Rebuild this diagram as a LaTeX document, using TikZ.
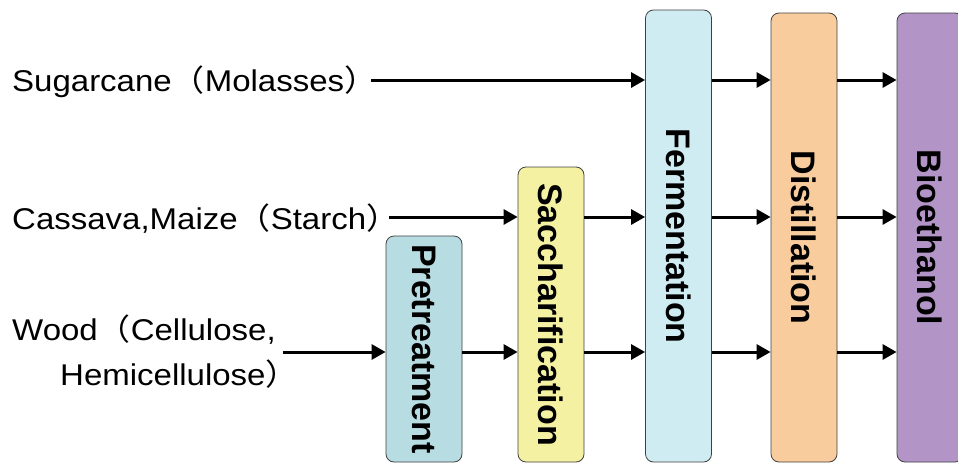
\documentclass[tikz,border=0pt]{standalone}
\usepackage{fontspec}
\setmainfont{Liberation Sans}
\newfontfamily\feedfont[FakeStretch=1.1]{Liberation Sans}
\newfontfamily\cjk[FakeStretch=1.1]{Noto Sans CJK JP}
\usetikzlibrary{calc, arrows.meta}

\definecolor{preColor}{RGB}{183,221,226}
\definecolor{sacColor}{RGB}{245,241,162}
\definecolor{fermColor}{RGB}{208,236,243}
\definecolor{distColor}{RGB}{249,204,157}
\definecolor{bioColor}{RGB}{179,148,199}

\newcommand{\lpar}{{\cjk （}}
\newcommand{\rpar}{{\cjk ）}}

\begin{document}
\begin{tikzpicture}[x=1pt, y=-1pt,
        stage/.style={draw=black!75, line width=0.8pt, rounded corners=8pt,
            minimum width=66pt, inner sep=0pt,
            font=\fontsize{34}{40}\selectfont\bfseries},
        feed/.style={inner sep=0pt, align=left,
            font=\fontsize{30}{45}\selectfont\feedfont},
        flow/.style={line width=3pt, -{Triangle[length=14pt,width=15pt]}}]

        \useasboundingbox (0,0) rectangle (958,463);

        % define rows
        \coordinate (row1) at (0,80);
        \coordinate (row2) at (0,217);
        \coordinate (row3) at (0,352);

        % draw stages
        \node (pre) at (424,349) [stage, fill=preColor, minimum width=76pt,
            minimum height=226pt] {\rotatebox{-90}{Pretreatment}};
        \node (sac) at (551,314.5) [stage, fill=sacColor,
            minimum height=295pt] {\rotatebox{-90}{Saccharification}};
        \node (ferm) at (678.5,236) [stage, fill=fermColor,
            minimum height=452pt] {\rotatebox{-90}{Fermentation}};
        \node (dist) at (804,237.5) [stage, fill=distColor,
            minimum height=449pt] {\rotatebox{-90}{Distillation}};
        \node (bio) at (930,237.5) [stage, fill=bioColor,
            minimum height=449pt] {\rotatebox{-90}{Bioethanol}};

        % feedstocks
        \node (sugar) at (12,82) [feed, anchor=west] {Sugarcane\lpar Molasses\rpar};
        \node (cassava) at (12,219) [feed, anchor=west] {Cassava,Maize\lpar Starch\rpar};
        \node (wood) at (12,352) [feed, anchor=west]
            {Wood\lpar Cellulose,\\\hspace*{48pt}Hemicellulose\rpar};

        % sugarcane line
        \draw[flow] ([xshift=-6pt]sugar.east |- row1) -- (ferm.west |- row1);
        \draw[flow] (ferm.east |- row1) -- (dist.west |- row1);
        \draw[flow] (dist.east |- row1) -- (bio.west |- row1);

        % starch line
        \draw[flow] ([xshift=-10pt]cassava.east |- row2) -- (sac.west |- row2);
        \draw[flow] (sac.east |- row2) -- (ferm.west |- row2);
        \draw[flow] (ferm.east |- row2) -- (dist.west |- row2);
        \draw[flow] (dist.east |- row2) -- (bio.west |- row2);

        % cellulose line
        \draw[flow] ([xshift=-16pt]wood.east |- row3) -- (pre.west |- row3);
        \draw[flow] (pre.east |- row3) -- (sac.west |- row3);
        \draw[flow] (sac.east |- row3) -- (ferm.west |- row3);
        \draw[flow] (ferm.east |- row3) -- (dist.west |- row3);
        \draw[flow] (dist.east |- row3) -- (bio.west |- row3);
    \end{tikzpicture}
\end{document}
